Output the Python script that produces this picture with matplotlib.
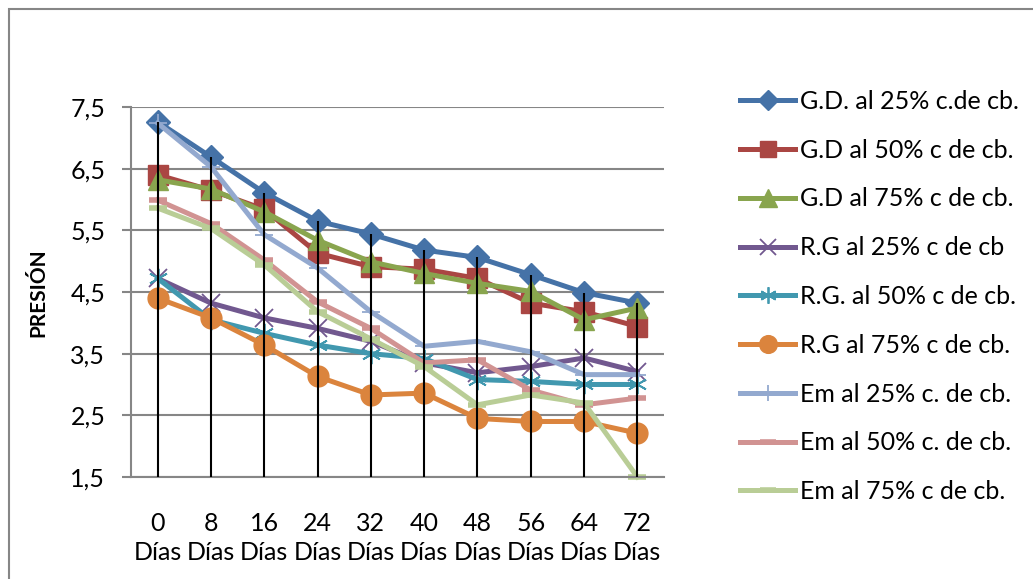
import matplotlib
matplotlib.use('Agg')
import matplotlib.pyplot as plt
from matplotlib import patches

plt.rcParams['font.family'] = ['Lato', 'DejaVu Sans']

days = [0, 8, 16, 24, 32, 40, 48, 56, 64, 72]
tick_labels = ['{}\nDías'.format(d) for d in days]

gd_25 = [7.26, 6.69, 6.11, 5.65, 5.44, 5.18, 5.06, 4.78, 4.49, 4.32]
gd_50 = [6.40, 6.15, 5.84, 5.13, 4.91, 4.87, 4.72, 4.32, 4.18, 3.94]
gd_75 = [6.32, 6.17, 5.80, 5.34, 4.99, 4.80, 4.64, 4.51, 4.05, 4.24]
rg_25 = [4.72, 4.32, 4.08, 3.91, 3.70, 3.35, 3.19, 3.29, 3.43, 3.21]
rg_50 = [4.72, 4.05, 3.83, 3.64, 3.50, 3.42, 3.08, 3.05, 3.00, 3.00]
rg_75 = [4.40, 4.08, 3.64, 3.13, 2.83, 2.86, 2.45, 2.40, 2.40, 2.21]
em_25 = [7.24, 6.53, 5.43, 4.89, 4.18, 3.62, 3.70, 3.53, 3.16, 3.16]
em_50 = [5.99, 5.61, 5.02, 4.34, 3.91, 3.35, 3.40, 2.91, 2.67, 2.78]
em_75 = [5.86, 5.53, 4.94, 4.18, 3.74, 3.29, 2.67, 2.83, 2.70, 1.50]

series = [
    ('G.D. al 25% c.de cb.', gd_25, '#4572A7', 'D', 12),
    ('G.D al 50% c de cb.', gd_50, '#AA4643', 's', 14),
    ('G.D al 75% c de cb.', gd_75, '#89A54E', '^', 15),
    ('R.G al 25% c de cb', rg_25, '#71588F', 'x', 13),
    ('R.G. al 50% c de cb.', rg_50, '#4198AF', (6, 2, 0), 14),
    ('R.G al 75% c de cb.', rg_75, '#DB843D', 'o', 15),
    ('Em al 25% c. de cb.', em_25, '#93A9CF', '+', 13),
    ('Em al 50% c. de cb.', em_50, '#D19392', '_', 13),
    ('Em al 75% c de cb.', em_75, '#B9CD96', '_', 13),
]


def main():
    fig = plt.figure(figsize=(10.33, 5.79), dpi=100)
    ax = fig.add_axes([0.1268, 0.1762, 0.5160, 0.6390])

    x = list(range(len(days)))
    for label, vals, color, marker, ms in series:
        if marker in ('x', '+') or isinstance(marker, tuple):
            mew = 1.3
        elif marker == '_':
            mew = 4
        else:
            mew = 1
        ax.plot(x, vals, color=color, lw=3.6, marker=marker, ms=ms,
                mew=mew, mec=color, mfc=color, label=label, clip_on=False,
                solid_joinstyle='round')

    # drop lines from top point to the axis
    tops = [max(s[1][i] for s in series) for i in x]
    ax.vlines(x, 1.5, tops, color='black', lw=1.5, zorder=5)

    ax.set_xlim(-0.5, len(days) - 0.5)
    ax.set_ylim(1.5, 7.5)
    yt = [1.5, 2.5, 3.5, 4.5, 5.5, 6.5, 7.5]
    ax.set_yticks(yt)
    ax.set_yticklabels([str(v).replace('.', ',') for v in yt], fontsize=18)
    ax.set_xticks(x)
    ax.set_xticklabels(tick_labels, fontsize=18, linespacing=1.35)
    ax.tick_params(axis='x', length=0, pad=25)
    ax.tick_params(axis='y', length=6.5, color='#868686', width=1.5, pad=12)
    ax.yaxis.grid(True, color='#868686', lw=1.5)
    ax.set_axisbelow(True)
    for side in ('top', 'right'):
        ax.spines[side].set_visible(False)
    for side in ('left', 'bottom'):
        ax.spines[side].set_color('#868686')
        ax.spines[side].set_linewidth(1.5)

    fig.text(0.037, 0.495, 'PRESIÓN', rotation=90, fontsize=15,
             fontweight='bold', va='center', ha='center')

    handles, labels = ax.get_legend_handles_labels()
    fig.legend(handles, labels, loc='upper left',
               bbox_to_anchor=(740 / 1033, 1 - 90 / 579), frameon=False,
               fontsize=18, borderpad=0, borderaxespad=0, handlelength=2.2,
               handletextpad=0.2, labelspacing=1.03, markerscale=0.85)

    fig.patches.append(patches.Rectangle((9 / 1033, -0.1), 1.2, 1 - 9 / 579 + 0.1,
                                         transform=fig.transFigure,
                                         fill=False, ec='#868686', lw=1.5))

    fig.savefig('out.png', dpi=100)


if __name__ == '__main__':
    main()
